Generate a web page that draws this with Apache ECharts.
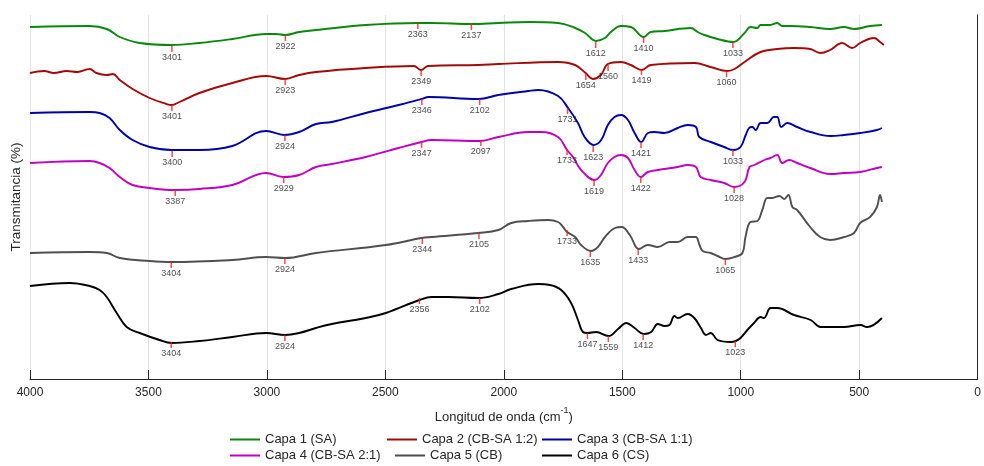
<!DOCTYPE html>
<html><head><meta charset="utf-8">
<script src="https://cdn.jsdelivr.net/npm/echarts@6/dist/echarts.min.js"></script>
<style>html,body{margin:0;padding:0;background:#fff}#c{width:984px;height:466px}</style>
</head><body><div id="c"></div>
<script>
// Series names and colours
const names = ['Capa 1 (SA)', 'Capa 2 (CB-SA 1:2)', 'Capa 3 (CB-SA 1:1)', 'Capa 4 (CB-SA 2:1)', 'Capa 5 (CB)', 'Capa 6 (CS)'];
const colors = ['#0b870b', '#a20a0a', '#0000a6', '#c000c0', '#4f4f4f', '#000000'];
const xTicks = [4000, 3500, 3000, 2500, 2000, 1500, 1000, 500, 0];

// Spectra: [wavenumber (cm-1), transmittance (offset, arbitrary units)]
const capa1 = [[4000,352],[3748,353],[3676,350],[3621,342],[3537,336],[3403,334],[3285,336],[3146,340],[3003,345],[2961,345],[2923,344],[2864,347],[2793,349],[2583,354],[2360,356],[2305,356],[2137,355],[2023,356],[1897,357],[1771,356],[1699,351],[1657,346],[1611,338],[1573,341],[1548,347],[1506,353],[1464,352],[1409,342],[1380,347],[1321,348],[1211,351],[1182,347],[1153,344],[1098,340],[1031,337],[984,346],[959,352],[930,351],[917,354],[875,354],[846,356],[825,353],[791,353],[707,352],[623,350],[564,352],[522,350],[454,353],[404,354]];
const capa2 = [[4000,306],[3940,308],[3900,306],[3844,308],[3800,307],[3748,310],[3720,306],[3676,304],[3650,305],[3621,299],[3567,290],[3495,281],[3424,275],[3403,274],[3369,277],[3285,286],[3146,296],[3003,303],[2923,300],[2864,304],[2793,307],[2583,311],[2380,313],[2349,309],[2320,313],[2107,314],[2023,315],[1771,317],[1699,314],[1655,306],[1624,300],[1590,304],[1561,315],[1506,317],[1464,314],[1418,309],[1380,314],[1195,316],[1127,312],[1056,308],[1026,310],[984,317],[917,327],[846,330],[774,331],[707,330],[665,326],[623,329],[572,336],[530,331],[496,336],[437,341],[412,337],[396,334]];
const capa3 = [[4000,266],[3748,267],[3706,266],[3664,261],[3621,249],[3567,239],[3495,232],[3403,229],[3285,229],[3146,233],[3003,248],[2927,244],[2864,247],[2793,255],[2726,257],[2583,266],[2444,274],[2347,280],[2318,282],[2107,280],[2023,284],[1897,288],[1855,289],[1771,283],[1729,271],[1687,256],[1659,242],[1621,234],[1589,239],[1561,254],[1533,262],[1505,264],[1476,259],[1448,246],[1420,237],[1392,246],[1364,247],[1322,246],[1266,251],[1224,254],[1189,252],[1175,242],[1126,237],[1070,232],[1032,229],[1001,232],[979,244],[965,251],[951,252],[937,249],[916,256],[888,256],[860,262],[846,262],[829,252],[804,256],[762,252],[705,247],[621,243],[565,244],[495,246],[425,249],[404,251]];
const capa4 = [[4000,216],[3748,218],[3706,216],[3664,211],[3621,202],[3567,194],[3495,191],[3386,189],[3285,190],[3146,194],[3003,206],[2932,202],[2864,204],[2793,212],[2726,215],[2583,222],[2444,231],[2347,237],[2305,239],[2099,238],[2023,242],[1897,247],[1842,247],[1771,242],[1733,229],[1708,222],[1674,209],[1616,199],[1590,204],[1561,216],[1533,222],[1506,224],[1476,221],[1448,209],[1422,202],[1392,207],[1350,209],[1266,212],[1224,214],[1189,212],[1169,202],[1127,199],[1070,196],[1028,192],[984,197],[963,212],[942,214],[900,219],[875,221],[846,224],[825,216],[795,219],[762,216],[707,211],[623,205],[564,206],[496,207],[425,211],[404,212]];
const capa5 = [[4000,126],[3748,127],[3676,126],[3621,121],[3495,118],[3403,117],[3146,119],[3003,122],[2923,121],[2793,126],[2498,134],[2347,141],[2305,142],[2107,146],[2023,149],[1969,156],[1897,158],[1813,159],[1771,157],[1750,152],[1733,147],[1699,142],[1674,134],[1632,128],[1603,132],[1573,142],[1531,151],[1502,152],[1468,144],[1430,130],[1392,134],[1350,132],[1300,137],[1266,137],[1224,142],[1190,142],[1174,134],[1161,128],[1127,126],[1098,123],[1064,120],[1026,122],[993,126],[980,142],[959,157],[930,158],[909,169],[888,181],[867,181],[837,183],[816,180],[799,184],[782,172],[762,169],[707,152],[665,142],[623,139],[564,142],[522,146],[496,156],[454,162],[425,172],[412,184],[404,177]];
const capa6 = [[4000,93],[3832,96],[3748,93],[3706,89],[3676,82],[3634,66],[3592,52],[3537,46],[3453,39],[3403,36],[3285,38],[3146,42],[3003,46],[2923,44],[2864,46],[2793,51],[2726,55],[2583,61],[2498,66],[2356,79],[2305,82],[2233,82],[2107,81],[2023,85],[1969,90],[1855,95],[1805,94],[1758,89],[1716,76],[1687,59],[1666,47],[1647,46],[1611,47],[1558,43],[1518,50],[1483,56],[1448,51],[1410,45],[1378,47],[1350,55],[1322,53],[1301,54],[1280,63],[1266,61],[1224,65],[1196,61],[1168,51],[1147,44],[1126,46],[1098,39],[1042,37],[1021,38],[1001,41],[972,49],[944,56],[916,62],[902,61],[874,71],[846,71],[775,64],[705,59],[663,52],[621,52],[565,52],[495,54],[467,52],[404,61]];

// Marked bands: [wavenumber label, transmittance at the band]
const peaks1 = [[3401,333],[2922,344],[2363,356],[2137,355],[1612,337],[1410,342],[1033,337]];
const peaks2 = [[3401,274],[2923,300],[2349,309],[1654,305],[1560,314],[1419,310],[1060,308]];
const peaks3 = [[3400,228],[2924,244],[2346,280],[2102,280],[1731,271],[1623,233],[1421,237],[1033,229]];
const peaks4 = [[3387,189],[2929,202],[2347,237],[2097,239],[1733,230],[1619,199],[1422,202],[1028,192]];
const peaks5 = [[3404,117],[2924,121],[2344,141],[2105,146],[1733,149],[1635,128],[1433,130],[1065,120]];
const peaks6 = [[3404,37],[2924,44],[2356,81],[2102,81],[1647,46],[1559,43],[1412,45],[1023,38]];

const curves = [capa1, capa2, capa3, capa4, capa5, capa6];
const peaks = [peaks1, peaks2, peaks3, peaks4, peaks5, peaks6];

const FONT = '"Liberation Sans", Arial, sans-serif';
const TXT = '#262626';
const chart = echarts.init(document.getElementById('c'), null, {renderer: 'canvas'});

const series = [];
curves.forEach((d, i) => series.push({
  type: 'line', name: names[i], data: d, showSymbol: false, symbol: 'none',
  smooth: 0.4, lineStyle: {color: colors[i], width: 1.9}, itemStyle: {color: colors[i]}, z: 2, silent: true
}));
peaks.forEach((p) => series.push({
  type: 'scatter', data: p.map(([w, t]) => [w, t - 3]), symbol: 'rect', symbolSize: [1.5, 6],
  itemStyle: {color: '#ff1a1a'}, z: 3, silent: true,
  label: {show: true, position: 'bottom', distance: 1, fontSize: 9, color: '#222', fontFamily: FONT,
    formatter: q => String(p[q.dataIndex][0])}
}));

const legendPos = [[230, 433], [387, 433], [542, 433], [230, 449], [395, 449], [542, 449]];
const legends = names.map((n, i) => ({
  data: [n], left: legendPos[i][0], top: legendPos[i][1], padding: 0, itemWidth: 30, itemHeight: 2,
  icon: 'rect', selectedMode: false, textStyle: {fontSize: 13, color: TXT, fontFamily: FONT}
}));

chart.setOption({
  animation: false,
  backgroundColor: '#fff',
  grid: {left: 30, right: 3, top: 15, bottom: 87},
  legend: legends,
  xAxis: {
    type: 'value', inverse: true, min: xTicks[xTicks.length - 1], max: xTicks[0], interval: 500,
    axisLine: {lineStyle: {color: TXT, width: 1}},
    axisTick: {inside: true, length: 9, lineStyle: {color: TXT}},
    axisLabel: {color: TXT, fontSize: 12, margin: 8, fontFamily: FONT, formatter: v => String(v)},
    splitLine: {show: true, lineStyle: {color: '#e3e3e3', width: 1}},
    name: '{t|Longitud de onda (cm}{s|-1}{t|)}', nameLocation: 'middle', nameGap: 27,
    nameTextStyle: {rich: {
      t: {fontSize: 13, color: TXT, fontFamily: FONT, lineHeight: 18, verticalAlign: 'bottom'},
      s: {fontSize: 9, color: TXT, fontFamily: FONT, verticalAlign: 'top', lineHeight: 10}
    }}
  },
  yAxis: [{
    type: 'value', min: 0, max: 364,
    axisLine: {show: true, lineStyle: {color: '#4a4a4a', width: 1}},
    axisTick: {show: false}, axisLabel: {show: false}, splitLine: {show: false},
    name: 'Transmitancia (%)', nameLocation: 'middle', nameGap: 7,
    nameTextStyle: {fontSize: 13.5, color: TXT, fontFamily: FONT}
  }, {
    type: 'value', min: 0, max: 364, position: 'right',
    axisLine: {show: true, lineStyle: {color: TXT, width: 1}},
    axisTick: {show: false}, axisLabel: {show: false}, splitLine: {show: false}
  }],
  series: series
});
</script></body></html>
